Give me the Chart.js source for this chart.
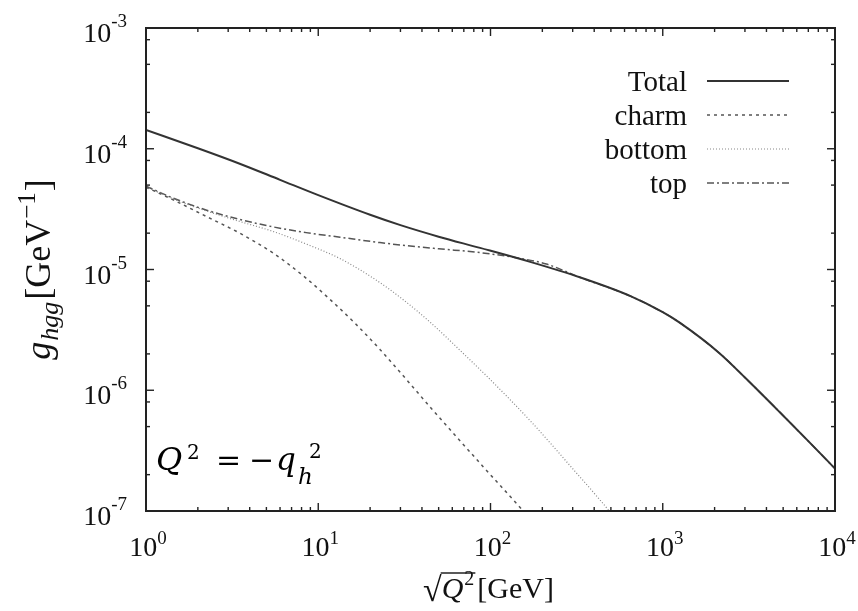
<!DOCTYPE html>
<html>
<head>
<meta charset="utf-8">
<script src="https://cdn.jsdelivr.net/npm/chart.js@4.4.1/dist/chart.umd.min.js"></script>
<style>
  html, body { margin: 0; padding: 0; background: #fff; }
  #wrap { position: relative; width: 858px; height: 611px; }
</style>
</head>
<body>
<div id="wrap"><canvas id="chart"></canvas></div>
<script>
// series (x = sqrt(Q^2) in GeV, y = g_hgg in GeV^-1)
const totalX = [1, 2, 3.5, 6, 10, 20, 30, 50, 87, 170, 330, 650, 1000, 1260, 2150, 3000, 4800, 7000, 10000];
const totalY = [1.43e-4, 1.01e-4, 7.52e-5, 5.53e-5, 4.13e-5, 2.84e-5, 2.33e-5, 1.87e-5, 1.51e-5, 1.156e-5, 8.62e-6, 6.02e-6, 4.43e-6, 3.61e-6, 2.01e-6, 1.275e-6, 6.54e-7, 3.79e-7, 2.245e-7];

const charmX = [1, 1.44, 2.25, 3.5, 5.5, 8.56, 11.7, 16.3, 22.8, 46.5, 90.6, 155, 175];
const charmY = [4.8e-5, 3.77e-5, 2.74e-5, 2.0e-5, 1.36e-5, 8.4e-6, 5.65e-6, 3.6e-6, 2.18e-6, 6.8e-7, 2.33e-7, 1.0e-7, 8.2e-8];

const bottomX = [1, 1.44, 2.25, 3.5, 5.5, 8.56, 13.4, 20.8, 31, 45, 72.6, 100, 176, 300, 433, 520];
const bottomY = [4.85e-5, 3.85e-5, 3.05e-5, 2.5e-5, 2.06e-5, 1.62e-5, 1.23e-5, 8.5e-6, 5.65e-6, 3.62e-6, 1.9e-6, 1.22e-6, 5.3e-7, 2.24e-7, 1.23e-7, 9.0e-8];

const topX = [1, 1.44, 2.25, 3.5, 5.5, 8.5, 13.4, 22.8, 30, 50, 87, 150, 211, 330, 650, 1000, 1260, 2150, 3000, 4800, 7000, 10000];
const topY = [4.9e-5, 3.9e-5, 3.1e-5, 2.6e-5, 2.25e-5, 2.02e-5, 1.85e-5, 1.67e-5, 1.595e-5, 1.484e-5, 1.38e-5, 1.233e-5, 1.11e-5, 8.62e-6, 6.02e-6, 4.43e-6, 3.61e-6, 2.01e-6, 1.275e-6, 6.54e-7, 3.79e-7, 2.245e-7];

// axis ticks
const xDecades = [1, 10, 100, 1000, 10000];
const xTickLabels = ["0", "1", "2", "3", "4"];
const xMinorSteps = [2, 3, 4, 5, 6, 7, 8, 9];
const yDecades = [1e-7, 1e-6, 1e-5, 1e-4, 1e-3];
const yTickLabels = ["-7", "-6", "-5", "-4", "-3"];
const yMinorSteps = [2, 5, 8];

const SERIF = '"Liberation Serif", "Times New Roman", serif';
const MATH = '"DejaVu Serif", serif';

function pairs(xs, ys) {
  return xs.map((x, i) => ({ x: x, y: ys[i] }));
}

// draws a run of text pieces [text, font, dy, gap] starting at x
function drawPieces(ctx, pieces, x, y) {
  pieces.forEach(p => {
    ctx.font = p[1];
    ctx.fillText(p[0], x, y + (p[2] || 0));
    x += ctx.measureText(p[0]).width + (p[3] || 0);
  });
  return x;
}

function piecesWidth(ctx, pieces) {
  let w = 0;
  pieces.forEach(p => {
    ctx.font = p[1];
    w += ctx.measureText(p[0]).width + (p[3] || 0);
  });
  return w;
}

function powPieces(exp, raise) {
  return [["10", "28px " + SERIF, 0], [exp, "19px " + SERIF, -raise]];
}

const axisDecor = {
  id: "axisDecor",
  afterDraw(chart) {
    const ctx = chart.ctx;
    const a = chart.chartArea;
    const xs = chart.scales.x;
    const ys = chart.scales.y;

    ctx.save();
    ctx.fillStyle = "#111";
    ctx.strokeStyle = "#222";
    ctx.textBaseline = "alphabetic";
    ctx.textAlign = "left";

    function seg(x1, y1, x2, y2) {
      ctx.beginPath();
      ctx.moveTo(x1, y1);
      ctx.lineTo(x2, y2);
      ctx.stroke();
    }

    // ticks, inward on all four sides
    ctx.lineWidth = 1.4;
    xDecades.forEach((d, i) => {
      const px = xs.getPixelForValue(d);
      seg(px, a.bottom, px, a.bottom - 8);
      seg(px, a.top, px, a.top + 8);
      if (i < xDecades.length - 1) {
        xMinorSteps.forEach(m => {
          const mx = xs.getPixelForValue(d * m);
          seg(mx, a.bottom, mx, a.bottom - 4);
          seg(mx, a.top, mx, a.top + 4);
        });
      }
    });
    yDecades.forEach((d, i) => {
      const py = ys.getPixelForValue(d);
      seg(a.left, py, a.left + 8, py);
      seg(a.right, py, a.right - 8, py);
      if (i < yDecades.length - 1) {
        yMinorSteps.forEach(m => {
          const my = ys.getPixelForValue(d * m);
          seg(a.left, my, a.left + 4, my);
          seg(a.right, my, a.right - 4, my);
        });
      }
    });

    // frame
    ctx.lineWidth = 2;
    ctx.strokeRect(a.left, a.top, a.right - a.left, a.bottom - a.top);

    // tick labels
    xDecades.forEach((d, i) => {
      const px = xs.getPixelForValue(d);
      const pcs = powPieces(xTickLabels[i], 12);
      const w = piecesWidth(ctx, pcs);
      drawPieces(ctx, pcs, px - w / 2 + 2, a.bottom + 45);
    });
    yDecades.forEach((d, i) => {
      const py = ys.getPixelForValue(d);
      const pcs = powPieces(yTickLabels[i], 15);
      const w = piecesWidth(ctx, pcs);
      drawPieces(ctx, pcs, a.left - 19 - w, py + 14);
    });

    // x title: sqrt(Q^2)[GeV]
    const cx = (a.left + a.right) / 2;
    ctx.font = "34px " + SERIF;
    const rootW = ctx.measureText("\u221A").width;
    const inner = [["Q", "italic 30px " + SERIF, 0, 1], ["2", "20px " + SERIF, -13, 3]];
    const innerW = piecesWidth(ctx, inner);
    const rest = [["[GeV]", "30px " + SERIF, 0]];
    const titleW = rootW + innerW + piecesWidth(ctx, rest);
    let tx = cx - titleW / 2 - 2;
    const ty = a.bottom + 87;
    ctx.font = "34px " + SERIF;
    ctx.fillText("\u221A", tx, ty + 3);
    tx += rootW;
    ctx.lineWidth = 1.3;
    seg(tx - 1, ty - 25, tx + innerW - 2, ty - 25);
    tx = drawPieces(ctx, inner, tx, ty);
    drawPieces(ctx, rest, tx, ty);

    // y title: g_hgg[GeV^-1]
    const yPieces = [
      ["g", "italic 36px " + SERIF, 0, 1],
      ["hgg", "italic 26px " + SERIF, 8, 2],
      ["[GeV", "36px " + SERIF, 0, 1],
      ["\u22121", "25px " + SERIF, -15, 1],
      ["]", "36px " + SERIF, 0]
    ];
    const yw = piecesWidth(ctx, yPieces);
    ctx.save();
    ctx.translate(50, (a.top + a.bottom) / 2);
    ctx.rotate(-Math.PI / 2);
    drawPieces(ctx, yPieces, -yw / 2, 0);
    ctx.restore();

    // annotation Q^2 = -q_h^2
    ctx.fillStyle = "#000";
    ctx.font = "italic 32px " + MATH;
    ctx.fillText("Q", 156, 470);
    ctx.font = "20px " + MATH;
    ctx.fillText("2", 187, 459);
    ctx.font = "30px " + MATH;
    ctx.fillText("=", 216, 470);
    ctx.fillText("\u2212", 249, 470);
    ctx.font = "italic 31px " + MATH;
    ctx.fillText("q", 276, 470);
    ctx.font = "italic 23px " + MATH;
    ctx.fillText("h", 298, 484);
    ctx.font = "20px " + MATH;
    ctx.fillText("2", 309, 458);

    // legend, text right-aligned with the line sample after it
    ctx.textAlign = "right";
    ctx.font = "29px " + SERIF;
    chart.data.datasets.forEach((ds, i) => {
      const ly = 81 + i * 34;
      ctx.fillStyle = "#111";
      ctx.fillText(ds.label, 687, ly + 10);
      ctx.strokeStyle = ds.borderColor;
      ctx.lineWidth = ds.borderWidth;
      ctx.setLineDash(ds.borderDash || []);
      seg(707, ly, 789, ly);
      ctx.setLineDash([]);
    });
    ctx.restore();
  }
};

const lineBase = {
  showLine: true,
  pointRadius: 0,
  fill: false,
  cubicInterpolationMode: "monotone"
};

new Chart(document.getElementById("chart"), {
  type: "scatter",
  data: {
    datasets: [
      Object.assign({}, lineBase, {
        label: "Total",
        data: pairs(totalX, totalY),
        borderColor: "#333",
        borderWidth: 2
      }),
      Object.assign({}, lineBase, {
        label: "charm",
        data: pairs(charmX, charmY),
        borderColor: "#555",
        borderWidth: 1.5,
        borderDash: [3, 4]
      }),
      Object.assign({}, lineBase, {
        label: "bottom",
        data: pairs(bottomX, bottomY),
        borderColor: "#888",
        borderWidth: 1.2,
        borderDash: [1, 2]
      }),
      Object.assign({}, lineBase, {
        label: "top",
        data: pairs(topX, topY),
        borderColor: "#555",
        borderWidth: 1.5,
        borderDash: [7, 3, 2, 3]
      })
    ]
  },
  options: {
    responsive: true,
    maintainAspectRatio: false,
    animation: false,
    layout: {
      padding: { left: 146, top: 28, right: 23, bottom: 100 }
    },
    scales: {
      x: { type: "logarithmic", min: 1, max: 10000, display: false },
      y: { type: "logarithmic", min: 1e-7, max: 1e-3, display: false }
    },
    plugins: {
      legend: { display: false },
      tooltip: { enabled: false }
    }
  },
  plugins: [axisDecor]
});
</script>
</body>
</html>
